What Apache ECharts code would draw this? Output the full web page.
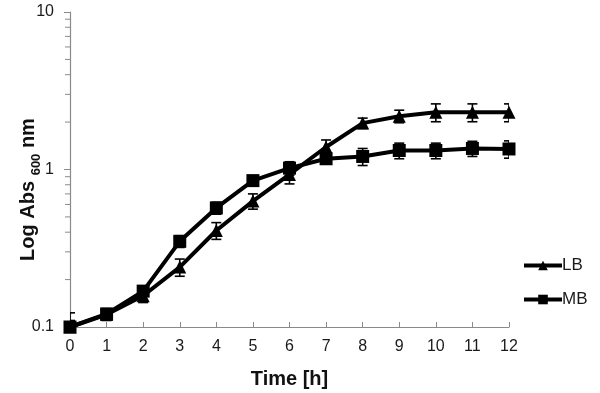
<!DOCTYPE html>
<html><head><meta charset="utf-8">
<script src="https://cdn.jsdelivr.net/npm/echarts@6/dist/echarts.min.js"></script>
<style>html,body{margin:0;padding:0;background:#fff}#c{width:600px;height:393px}</style>
</head><body><div id="c"></div>
<script>
const timeH = [0,1,2,3,4,5,6,7,8,9,10,11,12];
const lbValues = [0.10,0.12,0.158,0.24,0.41,0.63,0.93,1.39,1.97,2.18,2.31,2.31,2.31];
const mbValues = [0.10,0.121,0.169,0.35,0.57,0.85,1.02,1.17,1.21,1.32,1.32,1.36,1.35];
const lbErr = [0.023,0.01,0.015,0.03,0.05,0.07,0.12,0.15,0.15,0.2,0.3,0.3,0.3];
const mbErr = [0.01,0.01,0.01,0.03,0.05,0.05,0.1,0.05,0.15,0.15,0.15,0.15,0.17];
const yMinorTicks = [0.2,0.3,0.4,0.5,0.6,0.7,0.8,0.9,2,3,4,5,6,7,8,9];
const yTickLabels = ['0.1','1','10'];

const FONT = '"Liberation Sans", Arial, sans-serif';
const AX = '#8a8a8a';
const chart = echarts.init(document.getElementById('c'));

function errRender(params, api){
  const x = api.value(0), v = api.value(1), e = api.value(2);
  const lo = api.coord([x, v - e]), hi = api.coord([x, v + e]);
  const w = 5;
  const st = {stroke:'#000', lineWidth:1.6};
  return {type:'group', children:[
    {type:'line', shape:{x1:lo[0],y1:lo[1],x2:hi[0],y2:hi[1]}, style:st},
    {type:'line', shape:{x1:lo[0]-w,y1:lo[1],x2:lo[0]+w,y2:lo[1]}, style:st},
    {type:'line', shape:{x1:hi[0]-w,y1:hi[1],x2:hi[0]+w,y2:hi[1]}, style:st}
  ]};
}

chart.setOption({
  animation:false,
  grid:{left:70,right:91,top:12,bottom:66,containLabel:false,outerBoundsMode:'none'},
  legend:{
    data:['LB','MB'], orient:'vertical', left:517, top:252,
    itemWidth:38, itemHeight:12, itemGap:17,
    lineStyle:{width:4,color:'#000'},
    itemStyle:{color:'#000'},
    textStyle:{fontFamily:FONT,fontSize:17,color:'#1a1a1a',padding:[0,0,0,-5]}
  },
  xAxis:{
    type:'value', min:0, max:12, interval:1,
    name:'Time [h]', nameLocation:'middle', nameGap:42,
    nameTextStyle:{fontFamily:FONT,fontSize:20,fontWeight:'bold',color:'#111'},
    axisLine:{lineStyle:{color:AX,width:1.2}},
    axisTick:{inside:true,length:5,lineStyle:{color:AX}},
    axisLabel:{fontFamily:FONT,fontSize:16,color:'#1a1a1a',margin:12},
    splitLine:{show:false}
  },
  yAxis:{
    type:'log', logBase:10, min:0.1, max:10,
    name:'{b|Log Abs }{s|600}{b| nm}', nameLocation:'middle', nameGap:32, nameRotate:90,
    nameMoveOverlap:false,
    nameTextStyle:{padding:[0,40,0,0],rich:{
      b:{fontFamily:FONT,fontSize:20,fontWeight:'bold',color:'#111',verticalAlign:'bottom',lineHeight:24},
      s:{fontFamily:FONT,fontSize:13,fontWeight:'bold',color:'#111',verticalAlign:'bottom',lineHeight:24,padding:[0,0,-5,0]}
    }},
    axisLine:{show:true,lineStyle:{color:AX,width:1.2}},
    axisTick:{show:true,length:6,lineStyle:{color:AX}},
    axisLabel:{fontFamily:FONT,fontSize:16,color:'#1a1a1a',margin:16,
      formatter:function(v){const i=Math.round(Math.log10(v))+1;return yTickLabels[i]!==undefined?yTickLabels[i]:String(v);}},
    splitLine:{show:false}
  },
  series:[
    {type:'custom', name:'minor', silent:true, clip:false, z:1,
     data:yMinorTicks.map(v=>[0,v]),
     renderItem:function(p,api){const c=api.coord([api.value(0),api.value(1)]);
       return {type:'line',shape:{x1:c[0]-5,y1:c[1],x2:c[0],y2:c[1]},style:{stroke:AX,lineWidth:1}};}},
    {type:'custom', name:'LBerr', silent:true, z:2, clip:true,
     data:timeH.map((t,i)=>[t,lbValues[i],lbErr[i]]), renderItem:errRender},
    {type:'custom', name:'MBerr', silent:true, z:2, clip:true,
     data:timeH.map((t,i)=>[t,mbValues[i],mbErr[i]]), renderItem:errRender},
    {type:'line', name:'LB', z:3, data:timeH.map((t,i)=>[t,lbValues[i]]),
     symbol:'triangle', symbolSize:13, showAllSymbol:true,
     lineStyle:{color:'#000',width:4}, itemStyle:{color:'#000',borderWidth:0}},
    {type:'line', name:'MB', z:4, data:timeH.map((t,i)=>[t,mbValues[i]]),
     symbol:'rect', symbolSize:13, showAllSymbol:true,
     lineStyle:{color:'#000',width:4}, itemStyle:{color:'#000',borderWidth:0}}
  ]
});
</script></body></html>
